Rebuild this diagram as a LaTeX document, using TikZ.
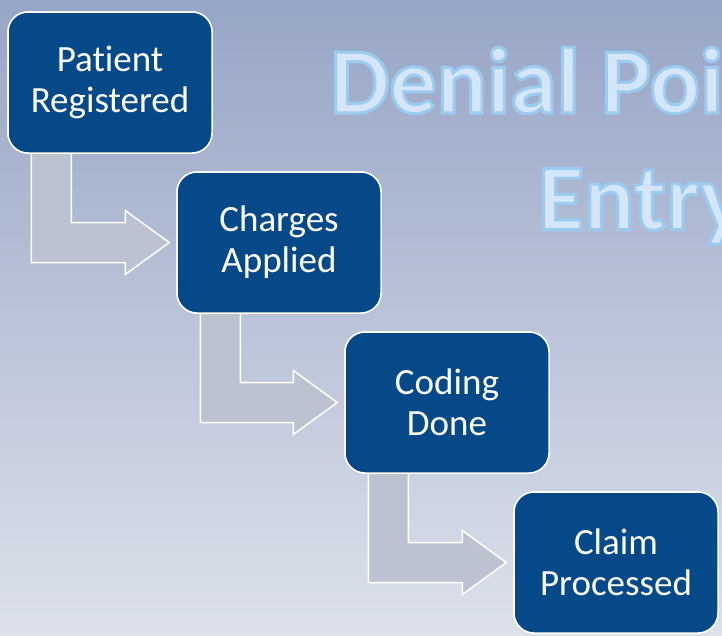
\documentclass[tikz,border=0pt]{standalone}
\usepackage{fontspec}
\setmainfont{Carlito}[Ligatures=NoCommon]
\usetikzlibrary{calc}
\definecolor{bgtop}{RGB}{151,165,198}
\definecolor{bgbottom}{RGB}{220,225,234}
\definecolor{stepblue}{RGB}{5,73,137}
\definecolor{arrowgrey}{RGB}{189,194,208}
\definecolor{titlefill}{RGB}{212,230,248}
% outlined title letters: fill and stroke, stroke in light blue
\newcommand\outlined[1]{\special{pdf:literal direct 2 Tr 3 w 0.612 0.796 0.945 RG}#1\special{pdf:literal direct 0 Tr}}
\tikzset{
  stepbox/.style={draw=white,line width=1.5pt,fill=stepblue,rounded corners=20pt,
    minimum width=204pt,minimum height=141pt,text=white,align=center,
    font=\fontsize{37}{41}\selectfont},
  flowarrow/.style={draw=white,line width=1.5pt,fill=arrowgrey,line join=miter},
  titletext/.style={anchor=base west,inner sep=0pt,text=titlefill,
    font=\fontsize{94}{115}\selectfont\bfseries}
}
% bent arrow from the foot of one box into the left side of the next
\newcommand\bentarrow[2]{%
\draw[flowarrow] let \p1=(#1.south west), \p2=(#2.west) in
  (\x1+24pt,\y1) -- (\x1+24pt,\y2-20pt) -- (\x2-51pt,\y2-20pt) -- (\x2-51pt,\y2-32pt)
  -- (\x2-7pt,\y2) -- (\x2-51pt,\y2+32pt) -- (\x2-51pt,\y2+20pt)
  -- (\x1+64pt,\y2+20pt) -- (\x1+64pt,\y1);}
\begin{document}
\begin{tikzpicture}[x=1pt,y=-1pt]
\useasboundingbox (0,0) rectangle (722,635);
\clip (0,0) rectangle (722,635);
\shade[top color=bgtop,bottom color=bgbottom] (0,0) rectangle (722,635);
%
% title
\node[titletext] (title1) at (330,113) {\outlined{Denial Poi}};
\node[titletext] (title2) at (538,229.5) {\outlined{Entry}};
%
% steps
\coordinate (p1) at (110,82.5);
\coordinate (p2) at (279,242.5);
\coordinate (p3) at (447,402.5);
\coordinate (p4) at (616,562.5);
\node[stepbox] (registered) at (p1) {Patient\\Registered};
\node[stepbox] (charges) at (p2) {Charges\\Applied};
\node[stepbox] (coding) at (p3) {Coding\\Done};
\node[stepbox] (claim) at (p4) {Claim\\Processed};
%
\bentarrow{registered}{charges}
\bentarrow{charges}{coding}
\bentarrow{coding}{claim}
%
% boxes again on top of the arrow stems
\node[stepbox] at (p1) {Patient\\Registered};
\node[stepbox] at (p2) {Charges\\Applied};
\node[stepbox] at (p3) {Coding\\Done};
\node[stepbox] at (p4) {Claim\\Processed};
\end{tikzpicture}
\end{document}
